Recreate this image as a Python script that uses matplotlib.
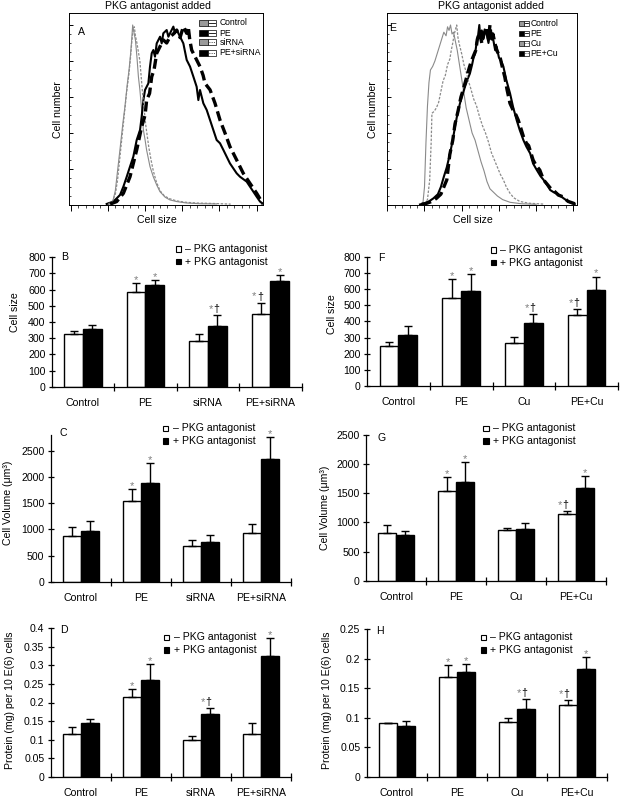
import matplotlib
matplotlib.use("Agg")
import numpy as np
import matplotlib.pyplot as plt
from matplotlib.patches import Rectangle
from matplotlib.lines import Line2D

plt.rcParams['font.family'] = ['Liberation Sans', 'DejaVu Sans']
plt.rcParams['font.size'] = 7.6

# ---------------- histogram data ----------------
a_ctrl_x = [48, 53, 57, 60, 62.6, 66, 70, 73, 76, 78.4, 80.5, 82, 83.3, 85, 87, 89, 91, 93, 95.4, 97.7, 100, 102, 106.6, 111, 115.6, 120, 127, 133.5, 142.5, 156, 174, 196]
a_ctrl_y = [0.3, 0.6, 2.8, 8, 17.6, 30, 45, 55, 67, 75, 84, 92, 100, 96, 91.7, 82.4, 71.3, 63.9, 52.8, 41.7, 36.1, 30.6, 21.3, 15.7, 11.1, 7.4, 4.3, 2.8, 1.9, 1.1, 0.7, 0.6]
a_pe_x = [48.4, 57.3, 61.8, 66.3, 70.8, 75.3, 79.7, 84.2, 88.7, 93.2, 95.4, 97.7, 99.9, 102.1, 104.4, 106.6, 108.9, 111.1, 113.3, 115.6, 120.1, 122.3, 124.5, 129, 131.3, 133.5, 138, 140.2, 142.5, 147, 151.4, 155.9, 160.4, 164.9, 169.3, 171.6, 173.8, 178.3, 182.8, 187.3, 191.7, 196.2, 200.7, 205.2, 214.1, 223.1, 227.6, 236.5, 241, 245.5, 250, 254.5, 258.9]
a_pe_y = [0.6, 1.9, 3.7, 5.6, 10.2, 15.7, 21.3, 26.9, 36.1, 41.7, 49.1, 58.3, 63.9, 65.7, 67.6, 76.9, 84.3, 86.1, 82.4, 89.8, 93.5, 89.8, 95.4, 97.2, 93.5, 95.4, 99.1, 95.4, 97.2, 93.5, 89.8, 80.6, 76.9, 71.3, 65.7, 58.3, 63.9, 56.5, 52.8, 47.2, 41.7, 36.1, 34.3, 30.6, 23.1, 17.6, 15.7, 13, 10.2, 7.4, 4.6, 1.9, 0.6]
a_kd_x = [50.6, 56, 60, 63, 66, 69, 72, 75, 78, 80, 82, 84, 85.5, 87, 89, 91, 93, 95, 97, 99, 101, 103, 105, 108, 111, 115, 120, 126, 133, 142, 155, 170, 195, 215]
a_kd_y = [0.5, 2, 6, 14, 26, 38, 50, 62, 72, 80, 90, 98, 99, 94, 90, 85, 80, 70, 60, 52, 44, 38, 32, 25, 19, 13, 8, 5, 3.5, 2.3, 1.5, 1.1, 0.8, 0.5]
a_combo_x = [52.9, 61.8, 70.8, 79.7, 88.7, 95.4, 100, 102.1, 106, 108.9, 112, 115.6, 120, 124.5, 129, 133.5, 138, 142.5, 147, 151.4, 155.9, 158, 160, 162.6, 169.3, 173.8, 178, 180.5, 187.3, 194, 200.7, 207.4, 214.1, 223.1, 232, 241, 250, 256.7, 258]
a_combo_y = [0.5, 1.9, 6.5, 15.7, 30.6, 43.5, 50, 58.3, 62, 71.3, 75, 84.3, 88, 91.7, 90, 93.5, 95, 97.2, 93, 99.1, 95.4, 99, 92, 86.1, 80.6, 76.9, 72, 67.6, 64, 56.5, 47.2, 40, 32.4, 25, 17.6, 12, 6.5, 1.9, 0.5]

e_ctrl_x = [45, 48, 50, 52, 54, 56, 58, 61, 64, 67, 70, 73, 76, 79, 81, 83, 85, 87, 89, 91, 94, 97, 100, 103, 106, 110, 114, 118, 122, 126, 130, 134, 138, 143, 148, 155, 165, 180, 200]
e_ctrl_y = [0.3, 1.5, 10, 35, 55, 68, 75, 77, 80, 84, 88, 92, 96, 94, 99, 97, 100, 95, 96, 92, 86, 78, 70, 62, 54, 47, 40, 36, 30, 24, 19, 13, 9, 7, 5, 3, 1.5, 0.7, 0.4]
e_pe_x = [44, 50, 56, 62, 68, 72, 76, 80, 84, 88, 91, 94, 97.7, 101, 104.4, 108, 111, 114, 116, 118, 120, 122, 123.7, 125, 127, 129, 131, 133.5, 136, 138, 140, 142.5, 145, 147, 150, 153, 156, 160, 165, 169, 174, 178, 183, 187, 192, 196, 201, 206, 210, 215, 219, 224, 228, 233, 237, 243, 248, 252]
e_pe_y = [0.3, 1, 2, 3.7, 6, 10, 15.7, 21, 28, 36, 43.5, 50, 56.5, 61, 65.7, 70, 73, 78, 82, 84, 90, 94, 100, 93, 97, 92, 96, 95.4, 90, 95.4, 92, 91.7, 86, 88, 82, 80, 77, 69.4, 62, 54.6, 47, 41.7, 36, 32.4, 28.7, 23, 19.4, 16, 14, 11, 8.3, 7, 6.5, 5, 3.7, 2, 1, 0.5]
e_cu_x = [50, 54, 57, 59, 60, 63, 66, 69, 72, 75, 78, 81, 84, 86, 88, 90, 92, 93.3, 95, 97, 100, 103, 106, 109, 112, 116, 120, 124, 128, 132, 136, 140, 144, 148, 152, 156, 160, 165, 170, 178, 190, 210]
e_cu_y = [0.5, 3, 14, 35, 51, 52, 54, 57, 63, 69, 72, 78, 81, 86, 90, 95, 98, 100, 93, 89, 84, 78, 74, 69, 65, 59, 55, 49, 44, 40, 35, 29, 25, 21, 17, 14, 10, 6.5, 4, 2, 1, 0.5]
e_combo_x = [46, 52, 60, 66, 72, 75, 80, 84, 88, 91, 95, 99, 102, 106, 110, 113, 116, 119, 121, 124, 127, 130, 133, 136, 138, 140, 142, 144.7, 147, 151.4, 155, 158, 161, 164.9, 169, 173, 176, 180, 183, 187, 190, 196, 200, 205, 210, 214, 220, 223, 230, 236, 243, 250, 253]
e_combo_y = [0.3, 0.8, 2, 3.7, 6, 9, 14, 28, 36, 45, 52, 60, 64, 70, 76, 80, 83, 86, 92, 96, 90, 95, 99, 92, 100, 91, 95, 89.8, 86, 82.4, 76, 71, 64, 56.5, 52.8, 50, 47.2, 42, 38, 34.3, 33, 25, 22, 19.4, 14, 12, 9, 8.3, 5.5, 4.6, 2, 1, 0.5]

labels_a = ['Control', 'PE', 'siRNA', 'PE+siRNA']
labels_e = ['Control', 'PE', 'Cu', 'PE+Cu']

# ---------------- bar data ----------------
legend_labels = ['\u2013 PKG antagonist', '+ PKG antagonist']

b_minus = [328, 583, 285, 449]
b_minus_err = [14, 58, 43, 71]
b_plus = [358, 628, 375, 654]
b_plus_err = [22, 34, 68, 39]

f_minus = [250, 549, 268, 439]
f_minus_err = [24, 116, 38, 39]
f_plus = [318, 592, 389, 599]
f_plus_err = [54, 102, 58, 81]

c_minus = [874, 1531, 689, 925]
c_minus_err = [166, 229, 115, 178]
c_plus = [976, 1888, 765, 2347]
c_plus_err = [185, 382, 122, 421]

g_minus = [824, 1533, 864, 1138]
g_minus_err = [137, 252, 46, 58]
g_plus = [784, 1688, 881, 1585]
g_plus_err = [74, 354, 114, 217]

d_minus = [0.115, 0.216, 0.099, 0.115]
d_minus_err = [0.018, 0.021, 0.012, 0.031]
d_plus = [0.146, 0.260, 0.169, 0.326]
d_plus_err = [0.009, 0.043, 0.017, 0.047]

h_minus = [0.0905, 0.169, 0.092, 0.122]
h_minus_err = [0.001, 0.02, 0.008, 0.008]
h_plus = [0.0865, 0.178, 0.115, 0.182]
h_plus_err = [0.008, 0.012, 0.016, 0.021]

b_marks = (['', '*', '', '*†'], ['', '*', '*†', '*'])
f_marks = (['', '*', '', '*†'], ['', '*', '*†', '*'])
c_marks = (['', '*', '', ''], ['', '*', '', '*'])
g_marks = (['', '*', '', '*†'], ['', '*', '', '*'])
d_marks = (['', '*', '', ''], ['', '*', '*†', '*'])
h_marks = (['', '*', '', '*†'], ['', '*', '*†', '*'])

size_ticks = [0, 100, 200, 300, 400, 500, 600, 700, 800]
vol_ticks = [0, 500, 1000, 1500, 2000, 2500]
prot_ticks_d = [0, 0.05, 0.1, 0.15, 0.2, 0.25, 0.3, 0.35, 0.4]
prot_ticks_h = [0, 0.05, 0.1, 0.15, 0.2, 0.25]

W, H = 620, 800
fig = plt.figure(figsize=(6.2, 8), dpi=100)


def box(l, t, r, b):
    return [l / W, 1 - b / H, (r - l) / W, (b - t) / H]


def ftext(x, y, s, **kw):
    fig.text(x / W, 1 - y / H, s, **kw)


GREY = '#8a8a8a'
hist_styles = [
    dict(color=GREY, lw=0.8),
    dict(color='black', lw=1.5),
    dict(color=GREY, lw=0.9, ls=(0, (2, 1.2))),
    dict(color='black', lw=2.4, ls=(0, (3, 1.4))),
]


def histogram(rect, xlim, curves, labels, letter, letter_xy, leg):
    ax = fig.add_axes(box(*rect))
    for (xs, ys), st in zip(curves, hist_styles):
        ax.plot(xs, ys, **st)
    ax.set_xlim(*xlim)
    ax.set_ylim(0, 106.5)
    ax.set_xticks(range(0, 251, 50))
    ax.set_xticks(range(0, 251, 10), minor=True)
    ax.set_yticks(range(0, 101, 20))
    ax.set_yticks(range(0, 101, 5), minor=True)
    ax.tick_params(axis='x', which='major', direction='out', length=4, width=0.7, labelbottom=False)
    ax.tick_params(axis='x', which='minor', direction='out', length=2, width=0.5)
    ax.tick_params(axis='y', which='major', direction='in', length=3, width=0.7, labelleft=False)
    ax.tick_params(axis='y', which='minor', direction='in', length=1.5, width=0.5)
    for s in ax.spines.values():
        s.set_linewidth(0.7)
    ftext(letter_xy[0], letter_xy[1], letter, ha='center', va='center')

    # legend with split swatches
    x0, half, hgt, ys, tx = leg
    for k, lab in enumerate(labels):
        y = ys[k]
        fc = '#9a9a9a' if k in (0, 2) else 'black'
        fig.patches.append(Rectangle((x0 / W, 1 - (y + hgt / 2) / H), half / W, hgt / H,
                                     transform=fig.transFigure, fc=fc, ec='black', lw=0.5))
        fig.patches.append(Rectangle(((x0 + half) / W, 1 - (y + hgt / 2) / H), half / W, hgt / H,
                                     transform=fig.transFigure, fc='white', ec='black', lw=0.5))
        fig.lines.append(Line2D([(x0 + half + 1) / W, (x0 + 2 * half - 1) / W], [1 - y / H, 1 - y / H],
                                transform=fig.transFigure, color='black', lw=0.6,
                                ls='-' if k in (0, 1) else ':'))
        ftext(tx, y, lab, ha='left', va='center', fontsize=6.2)
    return ax


histogram((69.3, 13.3, 263, 205), (-1.9, 258.5),
          [(a_ctrl_x, a_ctrl_y), (a_pe_x, a_pe_y), (a_kd_x, a_kd_y), (a_combo_x, a_combo_y)],
          labels_a, 'A', (81.7, 32), (199, 8.5, 6, [22.7, 33.3, 42.3, 52.7], 219.5))
histogram((386.7, 13.3, 576.7, 205), (-0.8, 254.6),
          [(e_ctrl_x, e_ctrl_y), (e_pe_x, e_pe_y), (e_cu_x, e_cu_y), (e_combo_x, e_combo_y)],
          labels_e, 'E', (393, 28), (519, 5, 5, [23.3, 33.3, 43.3, 53.3], 530.5))

for tx, xl, yl in [(157.5, 156.7, 58), (490.7, 473.3, 373.3)]:
    ftext(tx, 6, 'PKG antagonist added', ha='center', va='center')
    ftext(xl, 220, 'Cell size', ha='center', va='center')
    ftext(yl, 110, 'Cell number', ha='center', va='center', rotation=90)


def mark(ax, x, top, lab):
    if lab == '*':
        ax.annotate('*', (x, top), xytext=(0, 0), textcoords='offset points',
                    ha='center', va='baseline', color='#7f7f7f', fontsize=8)
    elif lab == '*†':
        ax.annotate('†', (x, top), xytext=(1.2, 2.2), textcoords='offset points',
                    ha='right', va='baseline', color='black', fontsize=7.6)
        ax.annotate('*', (x, top), xytext=(-3.2, 2.2), textcoords='offset points',
                    ha='right', va='baseline', color='#7f7f7f', fontsize=8)


def bar_panel(rect, cats, minus, minus_err, plus, plus_err, marks, ylim, yticks,
              ylabel, ylab_xy, letter, letter_xy, leg_xy):
    ax = fig.add_axes(box(*rect))
    x = np.arange(len(cats))
    w = 0.3
    for off, vals, errs, fc, mk in [(-w / 2, minus, minus_err, 'white', marks[0]),
                                    (w / 2, plus, plus_err, 'black', marks[1])]:
        ax.bar(x + off, vals, w, color=fc, edgecolor='black', linewidth=1.0, zorder=2)
        ax.errorbar(x + off, vals, yerr=[np.zeros(len(vals)), errs], fmt='none',
                    ecolor='black', elinewidth=1.0, capsize=3.2, capthick=1.0, zorder=3)
        for xi, v, e, m in zip(x + off, vals, errs, mk):
            mark(ax, xi, v + e, m)
    ax.set_xlim(-0.5, len(cats) - 0.5)
    ax.set_ylim(*ylim)
    ax.set_yticks(yticks)
    ax.set_yticklabels([f'{v:g}' for v in yticks])
    ax.set_xticks(x + 0.5)
    ax.set_xticklabels([])
    ax.set_xticks(x, minor=True)
    ax.set_xticklabels(cats, minor=True)
    ax.tick_params(axis='x', which='major', direction='inout', length=6, width=0.9)
    ax.tick_params(axis='x', which='minor', length=0, pad=8)
    ax.tick_params(axis='y', direction='inout', length=5, width=0.9, pad=2)
    ax.spines['top'].set_visible(False)
    ax.spines['right'].set_visible(False)
    ax.spines['left'].set_linewidth(0.9)
    ax.spines['bottom'].set_linewidth(0.9)
    ftext(ylab_xy[0], ylab_xy[1], ylabel, rotation=90, ha='center', va='center')
    ftext(letter_xy[0], letter_xy[1], letter, ha='center', va='center')
    cx, cy = leg_xy
    for k, (fc, lab) in enumerate(zip(['white', 'black'], legend_labels)):
        yy = cy + k * 12.7
        fig.patches.append(Rectangle(((cx - 2.6) / W, 1 - (yy + 2.6) / H), 5.2 / W, 5.2 / H,
                                     transform=fig.transFigure, fc=fc, ec='black', lw=0.8))
        ftext(cx + 7, yy, lab, ha='left', va='center')
    return ax


cats_left = ['Control', 'PE', 'siRNA', 'PE+siRNA']
cats_right = ['Control', 'PE', 'Cu', 'PE+Cu']

bar_panel((51.7, 257.3, 301.7, 386.7), cats_left, b_minus, b_minus_err, b_plus, b_plus_err, b_marks,
          (0, 800), size_ticks, 'Cell size', (15, 312), 'B', (65, 257), (178.3, 249))
bar_panel((367, 257.3, 618, 385.7), cats_right, f_minus, f_minus_err, f_plus, f_plus_err, f_marks,
          (0, 800), size_ticks, 'Cell size', (331.7, 314), 'F', (381, 258), (493.3, 250))
bar_panel((50.7, 435, 290.7, 581.7), cats_left, c_minus, c_minus_err, c_plus, c_plus_err, c_marks,
          (0, 2800), vol_ticks, 'Cell Volume (\u03bcm\u00b3)', (8.3, 503), 'C', (63, 432.7), (165.7, 428.3))
bar_panel((366, 435, 606, 580.7), cats_right, g_minus, g_minus_err, g_plus, g_plus_err, g_marks,
          (0, 2500), vol_ticks, 'Cell Volume (\u03bcm\u00b3)', (325, 508), 'G', (382, 438), (486, 428.3))
bar_panel((50.7, 628.3, 290.7, 776.7), cats_left, d_minus, d_minus_err, d_plus, d_plus_err, d_marks,
          (0, 0.4), prot_ticks_d, 'Protein (mg) per 10 E(6) cells', (10, 700), 'D', (64, 630), (166.7, 637.3))
bar_panel((366.7, 629, 606.7, 776.7), cats_right, h_minus, h_minus_err, h_plus, h_plus_err, h_marks,
          (0, 0.25), prot_ticks_h, 'Protein (mg) per 10 E(6) cells', (326.7, 700), 'H', (380, 631), (483.3, 637.3))

fig.savefig('out.png', dpi=100)
